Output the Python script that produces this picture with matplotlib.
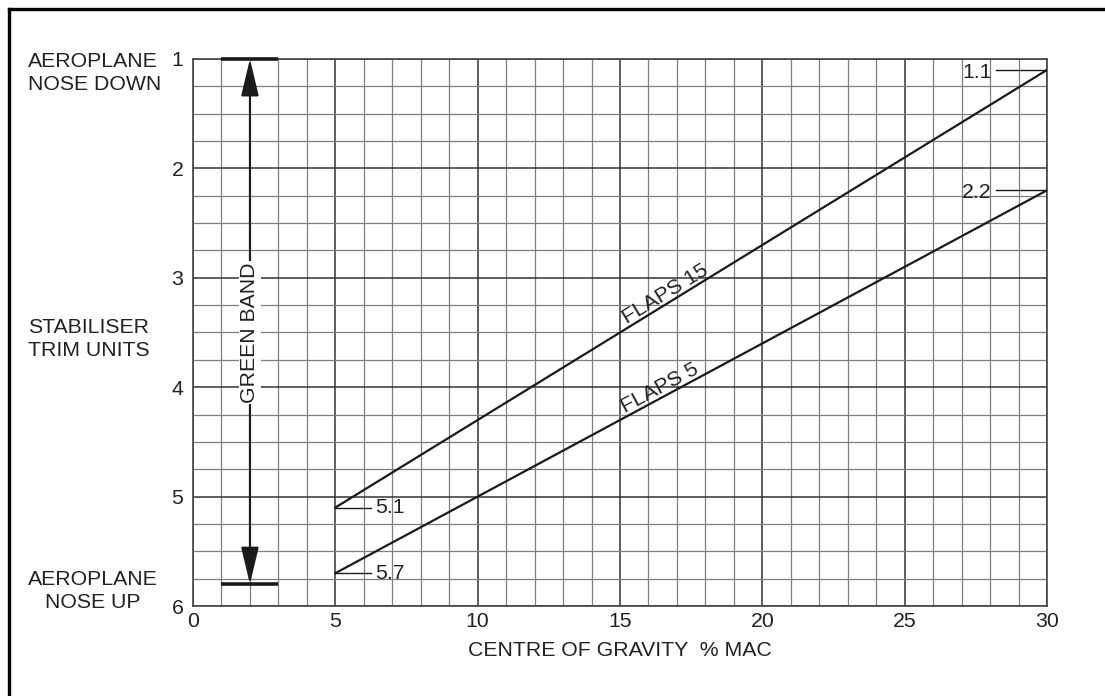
import numpy as np
import matplotlib
matplotlib.use("Agg")
import matplotlib.pyplot as plt
from matplotlib.lines import Line2D

plt.rcParams['font.family'] = ['Liberation Sans', 'DejaVu Sans']

# ---- data ----
cg_ends = [5, 30]                 # centre of gravity % MAC
flaps15_trim = [5.1, 1.1]         # stabiliser trim units
flaps5_trim = [5.7, 2.2]
green_band = [1.0, 5.8]           # trim limits of green band
green_band_x = [1, 2, 3]          # bar start, arrow x, bar end
x_ticks = [0, 5, 10, 15, 20, 25, 30]
y_ticks = [1, 2, 3, 4, 5, 6]

W, H = 1105, 696
fig = plt.figure(figsize=(W / 100, H / 100), dpi=100)
fig.patch.set_facecolor('white')

ax = fig.add_axes([193 / W, (H - 606) / H, 854 / W, 547 / H])
ax.set_xlim(0, 30)
ax.set_ylim(6, 1)

TXT = '#222222'
FS = 15.3

ax.set_xticks(x_ticks)
ax.set_yticks(y_ticks)
ax.set_xticks(np.arange(0, 31, 1), minor=True)
ax.set_yticks(np.arange(1, 6.01, 0.25), minor=True)
ax.tick_params(which='both', length=0)
ax.tick_params(axis='x', pad=4, labelsize=FS, labelcolor=TXT)
ax.tick_params(axis='y', pad=7, labelsize=FS, labelcolor=TXT)
ax.grid(which='major', color='#333333', lw=1.1)
ax.grid(which='minor', color='#7f7f7f', lw=0.9)
ax.set_axisbelow(True)
for s in ax.spines.values():
    s.set_color('#444444')
    s.set_linewidth(1.2)

# ---- flap lines ----
ax.plot(cg_ends, flaps15_trim, color='#1a1a1a', lw=1.6, zorder=3)
ax.plot(cg_ends, flaps5_trim, color='#1a1a1a', lw=1.6, zorder=3)

def line_angle(xs, ys):
    p = ax.transData.transform(np.column_stack([xs, ys]))
    return np.degrees(np.arctan2(p[1, 1] - p[0, 1], p[1, 0] - p[0, 0]))

def y_on(xs, ys, x):
    return ys[0] + (ys[1] - ys[0]) * (x - xs[0]) / (xs[1] - xs[0])

a15 = line_angle(cg_ends, flaps15_trim)
a5 = line_angle(cg_ends, flaps5_trim)
xl15 = 16.75
xl5 = 16.55
ax.text(xl15, y_on(cg_ends, flaps15_trim, xl15), 'FLAPS 15', rotation=a15,
        rotation_mode='anchor', ha='center', va='bottom', fontsize=FS, color=TXT, zorder=4)
ax.text(xl5, y_on(cg_ends, flaps5_trim, xl5), 'FLAPS 5', rotation=a5,
        rotation_mode='anchor', ha='center', va='bottom', fontsize=FS, color=TXT, zorder=4)

# ---- end value labels with leaders ----
lk = dict(color='#1a1a1a', lw=1.0, zorder=3)
ax.plot([cg_ends[0], 6.25], [flaps15_trim[0]] * 2, **lk)
ax.plot([cg_ends[0], 6.25], [flaps5_trim[0]] * 2, **lk)
ax.text(6.4, flaps15_trim[0], f'{flaps15_trim[0]}', ha='left', va='center',
        fontsize=FS, color=TXT, zorder=4)
ax.text(6.4, flaps5_trim[0], f'{flaps5_trim[0]}', ha='left', va='center',
        fontsize=FS, color=TXT, zorder=4)
ax.plot([28.2, cg_ends[1]], [flaps15_trim[1]] * 2, **lk)
ax.plot([28.2, cg_ends[1]], [flaps5_trim[1]] * 2, **lk)
ax.text(28.05, flaps15_trim[1] + 0.02, f'{flaps15_trim[1]}', ha='right', va='center',
        fontsize=FS, color=TXT, zorder=4)
ax.text(28.05, flaps5_trim[1] + 0.02, f'{flaps5_trim[1]}', ha='right', va='center',
        fontsize=FS, color=TXT, zorder=4)

# ---- green band ----
for yb in green_band:
    ax.plot([green_band_x[0], green_band_x[2]], [yb, yb], color='#1a1a1a',
            lw=2.6, solid_capstyle='butt', zorder=3, clip_on=False)
mid = 3.5
for yb in green_band:
    ax.annotate('', xy=(green_band_x[1], yb), xytext=(green_band_x[1], mid),
                arrowprops=dict(arrowstyle='-|>,head_length=2.3,head_width=0.55',
                                mutation_scale=10, lw=1.5, color='#1a1a1a',
                                shrinkA=0, shrinkB=0), zorder=3)
ax.text(green_band_x[1], mid, 'GREEN BAND', rotation=90, ha='center', va='center',
        fontsize=FS, color=TXT, zorder=5,
        bbox=dict(facecolor='white', edgecolor='none', pad=1.0))

# ---- axis descriptions ----
fig.text(28 / W, 1 - 73 / H, 'AEROPLANE\nNOSE DOWN', ha='left', va='center',
         fontsize=FS, color=TXT, linespacing=1.25)
fig.text(28 / W, 1 - 339 / H, 'STABILISER\nTRIM UNITS', ha='left', va='center',
         fontsize=FS, color=TXT, linespacing=1.25)
fig.text(92.5 / W, 1 - 591 / H, 'AEROPLANE\nNOSE UP', ha='center', va='center',
         fontsize=FS, color=TXT, linespacing=1.25, multialignment='center')
fig.text(620 / W, 1 - 650 / H, 'CENTRE OF GRAVITY  % MAC', ha='center', va='center',
         fontsize=FS, color=TXT)

# ---- outer frame (left and top edges visible) ----
fig.add_artist(Line2D([9 / W, 9 / W], [0, 1 - 9 / H], color='black', lw=2.4,
                      transform=fig.transFigure, solid_capstyle='projecting'))
fig.add_artist(Line2D([9 / W, 1], [1 - 9 / H, 1 - 9 / H], color='black', lw=2.4,
                      transform=fig.transFigure, solid_capstyle='projecting'))

fig.savefig('out.png', dpi=100, facecolor='white')
